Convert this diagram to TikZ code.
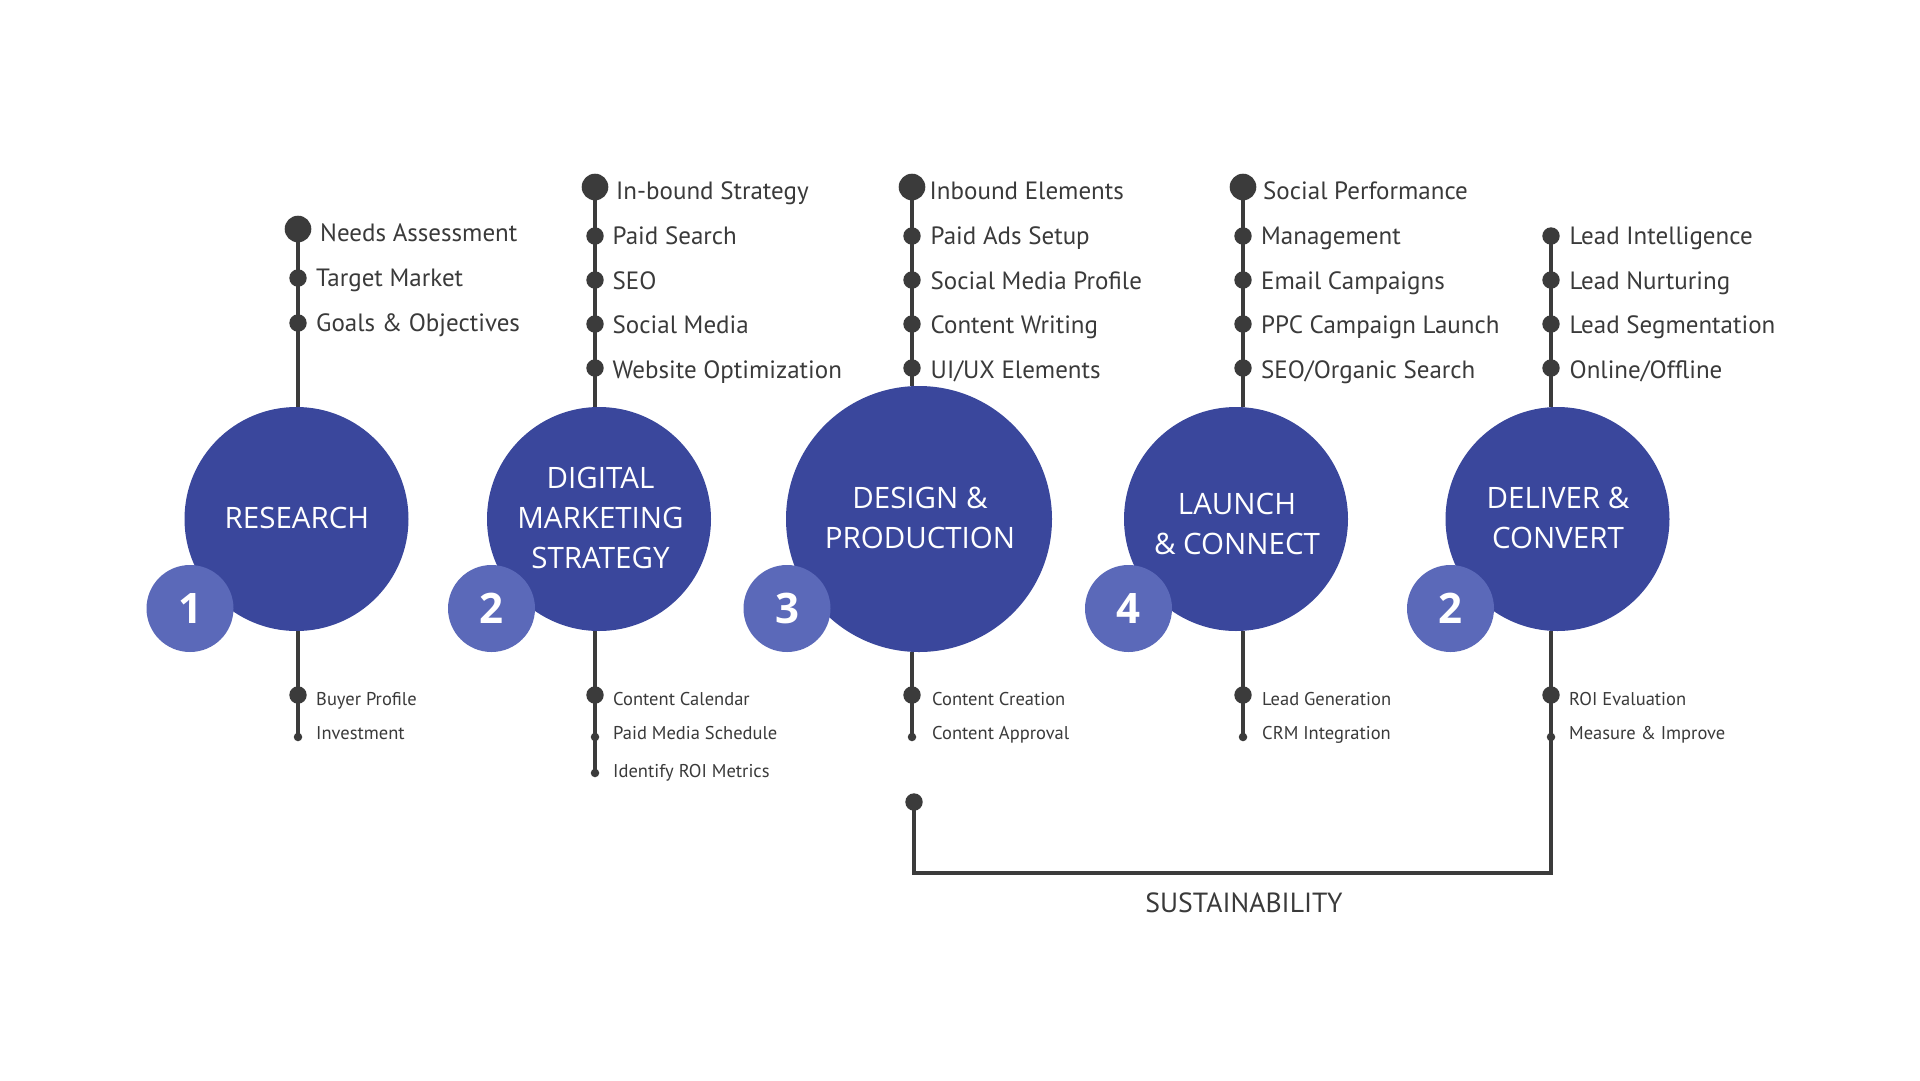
\documentclass[tikz,border=0pt]{standalone}
\usepackage{fontspec}
\setmainfont{PT Sans}
\newfontfamily\labelfont{Open Sans}
\definecolor{mainblue}{RGB}{58,71,156}
\definecolor{badgeblue}{RGB}{91,105,185}
\definecolor{linegray}{RGB}{59,59,59}
\definecolor{textgray}{RGB}{58,58,58}
\tikzset{
  conn/.style={draw=linegray, line width=4.7pt},
  bigdot/.style={circle, fill=linegray, inner sep=0pt, minimum size=26.6pt},
  meddot/.style={circle, fill=linegray, inner sep=0pt, minimum size=17.4pt},
  tinydot/.style={circle, fill=linegray, inner sep=0pt, minimum size=8.5pt},
  item/.style={anchor=base west, inner sep=0pt, text=textgray, font=\fontsize{25}{30}\selectfont},
  subitem/.style={anchor=base west, inner sep=0pt, text=textgray, font=\fontsize{18.5}{22}\selectfont},
  stage/.style={circle, fill=mainblue, inner sep=0pt, minimum size=224pt},
  stagelabel/.style={align=center, inner sep=0pt, text=white, font=\labelfont\fontsize{29.5}{40}\selectfont},
  badge/.style={circle, fill=badgeblue, inner sep=0pt, minimum size=87pt, text=white, font=\labelfont\bfseries\fontsize{42}{42}\selectfont},
  susttext/.style={anchor=base, inner sep=0pt, text=textgray, font=\fontsize{27.7}{30}\selectfont}
}
\begin{document}
\begin{tikzpicture}[x=1pt,y=-1pt]
\useasboundingbox[fill=white] (0,0) rectangle (1920,1080);

% stage circles
\node[stage] (s1) at (296.5,519) {};
\node[stage] (s2) at (599,519) {};
\node[stage, minimum size=266pt] (s3) at (919,519) {};
\node[stage] (s4) at (1236,519) {};
\node[stage] (s5) at (1557.5,519) {};

\node[stagelabel] (t1) at (297,518) {RESEARCH};
\node[stagelabel] (t2) at (600.5,518) {DIGITAL\\MARKETING\\STRATEGY};
\node[stagelabel] (t3) at (920,518) {DESIGN \&\\PRODUCTION};
\node[stagelabel] (t4) at (1237,524) {LAUNCH\\\& CONNECT};
\node[stagelabel] (t5) at (1558,518) {DELIVER \&\\CONVERT};

% badges
\node[badge] (b1) at (190,608.5) {1};
\node[badge] (b2) at (491.5,608.5) {2};
\node[badge] (b3) at (787,608.5) {3};
\node[badge] (b4) at (1128.5,608.5) {4};
\node[badge] (b5) at (1450.5,608.5) {2};

% column 1
\node[bigdot] (c1a) at (298,229) {};
\node[meddot] (c1b) at (298,278) {};
\node[meddot] (c1c) at (298,323) {};
\node[item] (c1at) at (320,241) {Needs Assessment};
\node[item] (c1bt) at (316,286) {Target Market};
\node[item] (c1ct) at (316,331) {Goals \& Objectives};
\node[meddot] (c1d) at (298,695) {};
\node[tinydot] (c1e) at (298,737) {};
\node[subitem] (c1dt) at (316,705) {Buyer Profile};
\node[subitem] (c1et) at (316,739) {Investment};

% column 2
\node[bigdot] (c2a) at (595,187) {};
\node[meddot] (c2b) at (595,236) {};
\node[meddot] (c2c) at (595,280) {};
\node[meddot] (c2d) at (595,324) {};
\node[meddot] (c2e) at (595,368) {};
\node[item] (c2at) at (616,199) {In-bound Strategy};
\node[item] (c2bt) at (612.5,244.5) {Paid Search};
\node[item] (c2ct) at (612.5,289) {SEO};
\node[item] (c2dt) at (612.5,333) {Social Media};
\node[item] (c2et) at (612.5,378) {Website Optimization};
\node[meddot] (c2f) at (595,695) {};
\node[tinydot] (c2g) at (595,737) {};
\node[tinydot] (c2h) at (595,773) {};
\node[subitem] (c2ft) at (613,705) {Content Calendar};
\node[subitem] (c2gt) at (613,739) {Paid Media Schedule};
\node[subitem] (c2ht) at (613,777) {Identify ROI Metrics};

% column 3
\node[bigdot] (c3a) at (912,187) {};
\node[meddot] (c3b) at (912,236) {};
\node[meddot] (c3c) at (912,280) {};
\node[meddot] (c3d) at (912,324) {};
\node[meddot] (c3e) at (912,368) {};
\node[item] (c3at) at (929.5,199) {Inbound Elements};
\node[item] (c3bt) at (930.5,244.5) {Paid Ads Setup};
\node[item] (c3ct) at (930.5,289) {Social Media Profile};
\node[item] (c3dt) at (930.5,333) {Content Writing};
\node[item] (c3et) at (930.5,378) {UI/UX Elements};
\node[meddot] (c3f) at (912,695) {};
\node[tinydot] (c3g) at (912,737) {};
\node[subitem] (c3ft) at (932,705) {Content Creation};
\node[subitem] (c3gt) at (932,739) {Content Approval};

% column 4
\node[bigdot] (c4a) at (1243,187) {};
\node[meddot] (c4b) at (1243,236) {};
\node[meddot] (c4c) at (1243,280) {};
\node[meddot] (c4d) at (1243,324) {};
\node[meddot] (c4e) at (1243,368) {};
\node[item] (c4at) at (1263,199) {Social Performance};
\node[item] (c4bt) at (1261,244.5) {Management};
\node[item] (c4ct) at (1261,289) {Email Campaigns};
\node[item] (c4dt) at (1261,333) {PPC Campaign Launch};
\node[item] (c4et) at (1261,378) {SEO/Organic Search};
\node[meddot] (c4f) at (1243,695) {};
\node[tinydot] (c4g) at (1243,737) {};
\node[subitem] (c4ft) at (1262,705) {Lead Generation};
\node[subitem] (c4gt) at (1262,739) {CRM Integration};

% column 5
\node[meddot] (c5b) at (1551,236) {};
\node[meddot] (c5c) at (1551,280) {};
\node[meddot] (c5d) at (1551,324) {};
\node[meddot] (c5e) at (1551,368) {};
\node[item] (c5bt) at (1569.5,244.5) {Lead Intelligence};
\node[item] (c5ct) at (1569.5,289) {Lead Nurturing};
\node[item] (c5dt) at (1569.5,333) {Lead Segmentation};
\node[item] (c5et) at (1569.5,378) {Online/Offline};
\node[meddot] (c5f) at (1551,695) {};
\node[tinydot] (c5g) at (1551,737) {};
\node[subitem] (c5ft) at (1569,705) {ROI Evaluation};
\node[subitem] (c5gt) at (1569,739) {Measure \& Improve};

% sustainability
\node[meddot] (sd) at (914,802) {};
\coordinate (corner) at (1551,873);
\node[susttext] (st) at (1244,912) {SUSTAINABILITY};

% connectors
\draw[conn] (c1a.center) -- (c1a.center |- s1.north);
\draw[conn] (c1e.center |- s1.south) -- (c1e.center);
\draw[conn] (c2a.center) -- (c2a.center |- s2.north);
\draw[conn] (c2h.center |- s2.south) -- (c2h.center);
\draw[conn] (c3a.center) -- (c3a.center |- s3.north);
\draw[conn] (c3g.center |- s3.south) -- (c3g.center);
\draw[conn] (c4a.center) -- (c4a.center |- s4.north);
\draw[conn] (c4g.center |- s4.south) -- (c4g.center);
\draw[conn] (c5b.center) -- (c5b.center |- s5.north);
\draw[conn] (c5f.center |- s5.south) -- (corner) -- (corner -| sd.center) -- (sd.center);
\end{tikzpicture}
\end{document}
